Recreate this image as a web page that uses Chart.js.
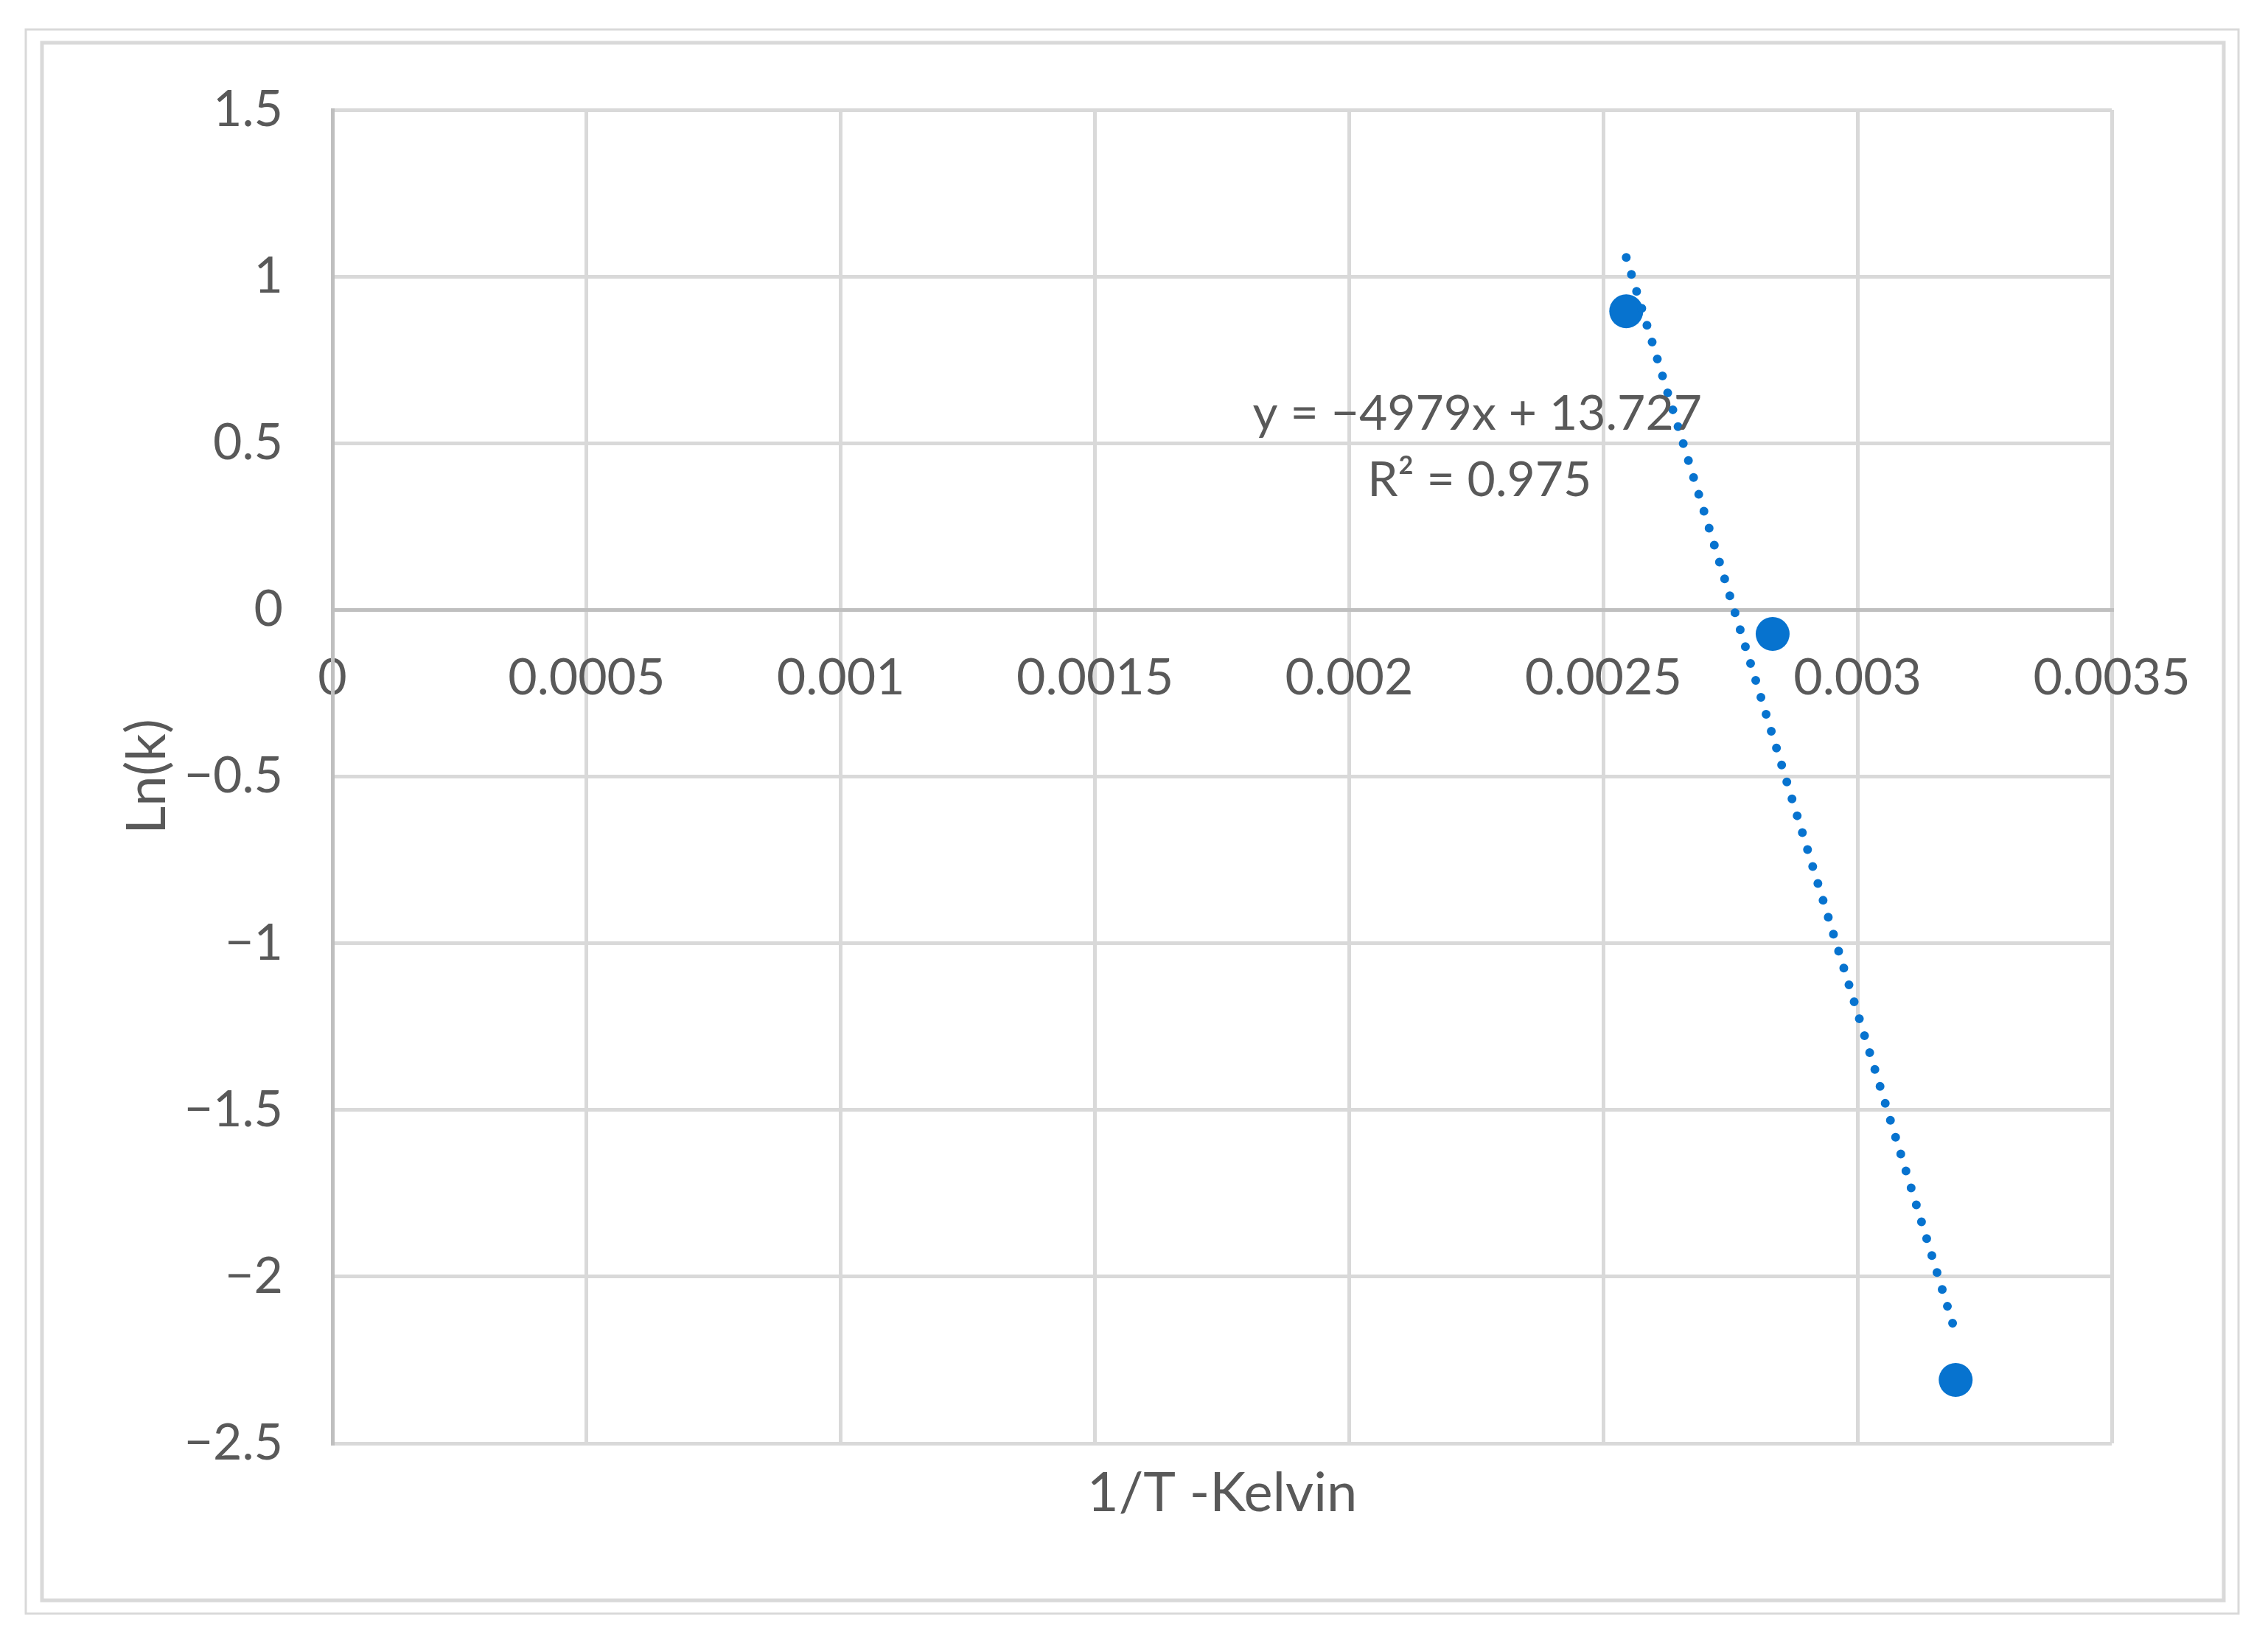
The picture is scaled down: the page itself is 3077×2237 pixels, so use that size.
<!DOCTYPE html>
<html>
<head>
<meta charset="utf-8">
<title>Ln(k) vs 1/T</title>
<script src="https://cdn.jsdelivr.net/npm/chart.js@4/dist/chart.umd.min.js"></script>
<style>
  html, body { margin: 0; padding: 0; background: #fff; }
  #wrap { width: 3077px; height: 2237px; }
</style>
</head>
<body>
<div id="wrap"><canvas id="chart" width="3077" height="2237"></canvas></div>
<script>
// Arrhenius plot, Ln(k) against 1/T
const invTemp = [0.002545, 0.002833, 0.003193];
const lnK = [0.896, -0.072, -2.31];

// linear trendline end points (as drawn)
const trendInvTemp = [0.002545, 0.003193];
const trendLnK = [1.057, -2.17];

const xTickLabels = ['0', '0.0005', '0.001', '0.0015', '0.002', '0.0025', '0.003', '0.0035'];
const yTickLabels = ['\u22122.5', '\u22122', '\u22121.5', '\u22121', '\u22120.5', '0', '0.5', '1', '1.5'];

const eqLines = ['y = \u22124979x + 13.727', 'R\u00b2 = 0.975'];
const xTitle = '1/T -Kelvin';
const yTitle = 'Ln(k)';

(() => {
  const BLUE = '#0773CF';
  const TEXT = '#595959';
  const GRID = '#d9d9d9';
  const AXIS = '#bfbfbf';
  const FONT = 'Lato';

  const points = invTemp.map((x, i) => ({ x, y: lnK[i] }));
  const trend = trendInvTemp.map((x, i) => ({ x, y: trendLnK[i] }));

  // ===== frame, axis title, equation label =====
  const decor = {
    id: 'decor',
    beforeDraw(chart) {
      const ctx = chart.ctx;
      ctx.save();
      ctx.fillStyle = '#fff';
      ctx.fillRect(0, 0, chart.width, chart.height);
      ctx.strokeStyle = GRID;
      ctx.lineWidth = 3;
      ctx.strokeRect(35, 40, 3002, 2149);
      ctx.lineWidth = 5;
      ctx.strokeRect(57, 58, 2960, 2113);
      ctx.restore();
    },
    afterDatasetsDraw(chart) {
      const ctx = chart.ctx;
      const { x, y } = chart.scales;
      const area = chart.chartArea;
      ctx.save();
      ctx.fillStyle = TEXT;
      ctx.textAlign = 'center';
      ctx.textBaseline = 'alphabetic';
      ctx.font = `74px ${FONT}`;
      ctx.fillText(xTitle, (area.left + area.right) / 2, 2050);
      ctx.font = `66px ${FONT}`;
      const cx = x.getPixelForValue(0.002252);
      const by = y.getPixelForValue(0.54);
      eqLines.forEach((t, i) => ctx.fillText(t, cx + i * 3, by + i * 90));
      ctx.restore();
    }
  };

  new Chart(document.getElementById('chart'), {
    type: 'scatter',
    data: {
      datasets: [
        {
          label: 'Ln(k)',
          data: points,
          backgroundColor: BLUE,
          borderColor: BLUE,
          borderWidth: 0,
          pointRadius: 23,
          pointHoverRadius: 23,
          order: 2
        },
        {
          label: 'Linear trend',
          type: 'line',
          data: trend,
          showLine: true,
          fill: false,
          borderColor: BLUE,
          borderWidth: 12,
          borderDash: [0, 24],
          borderCapStyle: 'round',
          pointRadius: 0,
          order: 1
        }
      ]
    },
    options: {
      responsive: false,
      animation: false,
      events: [],
      layout: { padding: { left: 0, top: 149, right: 212, bottom: 279 } },
      plugins: { legend: { display: false }, tooltip: { enabled: false } },
      scales: {
        x: {
          type: 'linear',
          position: { y: 0 },
          min: 0,
          max: 0.0035,
          grid: {
            color: c => (c.tick && c.tick.value === 0 ? AXIS : GRID),
            lineWidth: 5,
            drawTicks: false
          },
          border: { display: true, color: AXIS, width: 5 },
          ticks: {
            stepSize: 0.0005,
            autoSkip: false,
            maxRotation: 0,
            padding: 52,
            color: TEXT,
            font: { family: FONT, size: 68 },
            callback: (v, i) => xTickLabels[i]
          }
        },
        y: {
          type: 'linear',
          min: -2.5,
          max: 1.5,
          grid: {
            color: c => (c.tick && c.tick.value === 0 ? AXIS : GRID),
            lineWidth: 5,
            drawTicks: false
          },
          border: { display: true, color: AXIS, width: 5 },
          ticks: {
            stepSize: 0.5,
            padding: 67,
            color: TEXT,
            font: { family: FONT, size: 68 },
            callback: (v, i) => yTickLabels[i]
          },
          title: {
            display: true,
            text: yTitle,
            color: TEXT,
            font: { family: FONT, size: 74 },
            padding: { top: 156, bottom: 0 }
          },
          afterFit: s => { s.width = 451; }
        }
      }
    },
    plugins: [decor]
  });
})();
</script>
</body>
</html>
